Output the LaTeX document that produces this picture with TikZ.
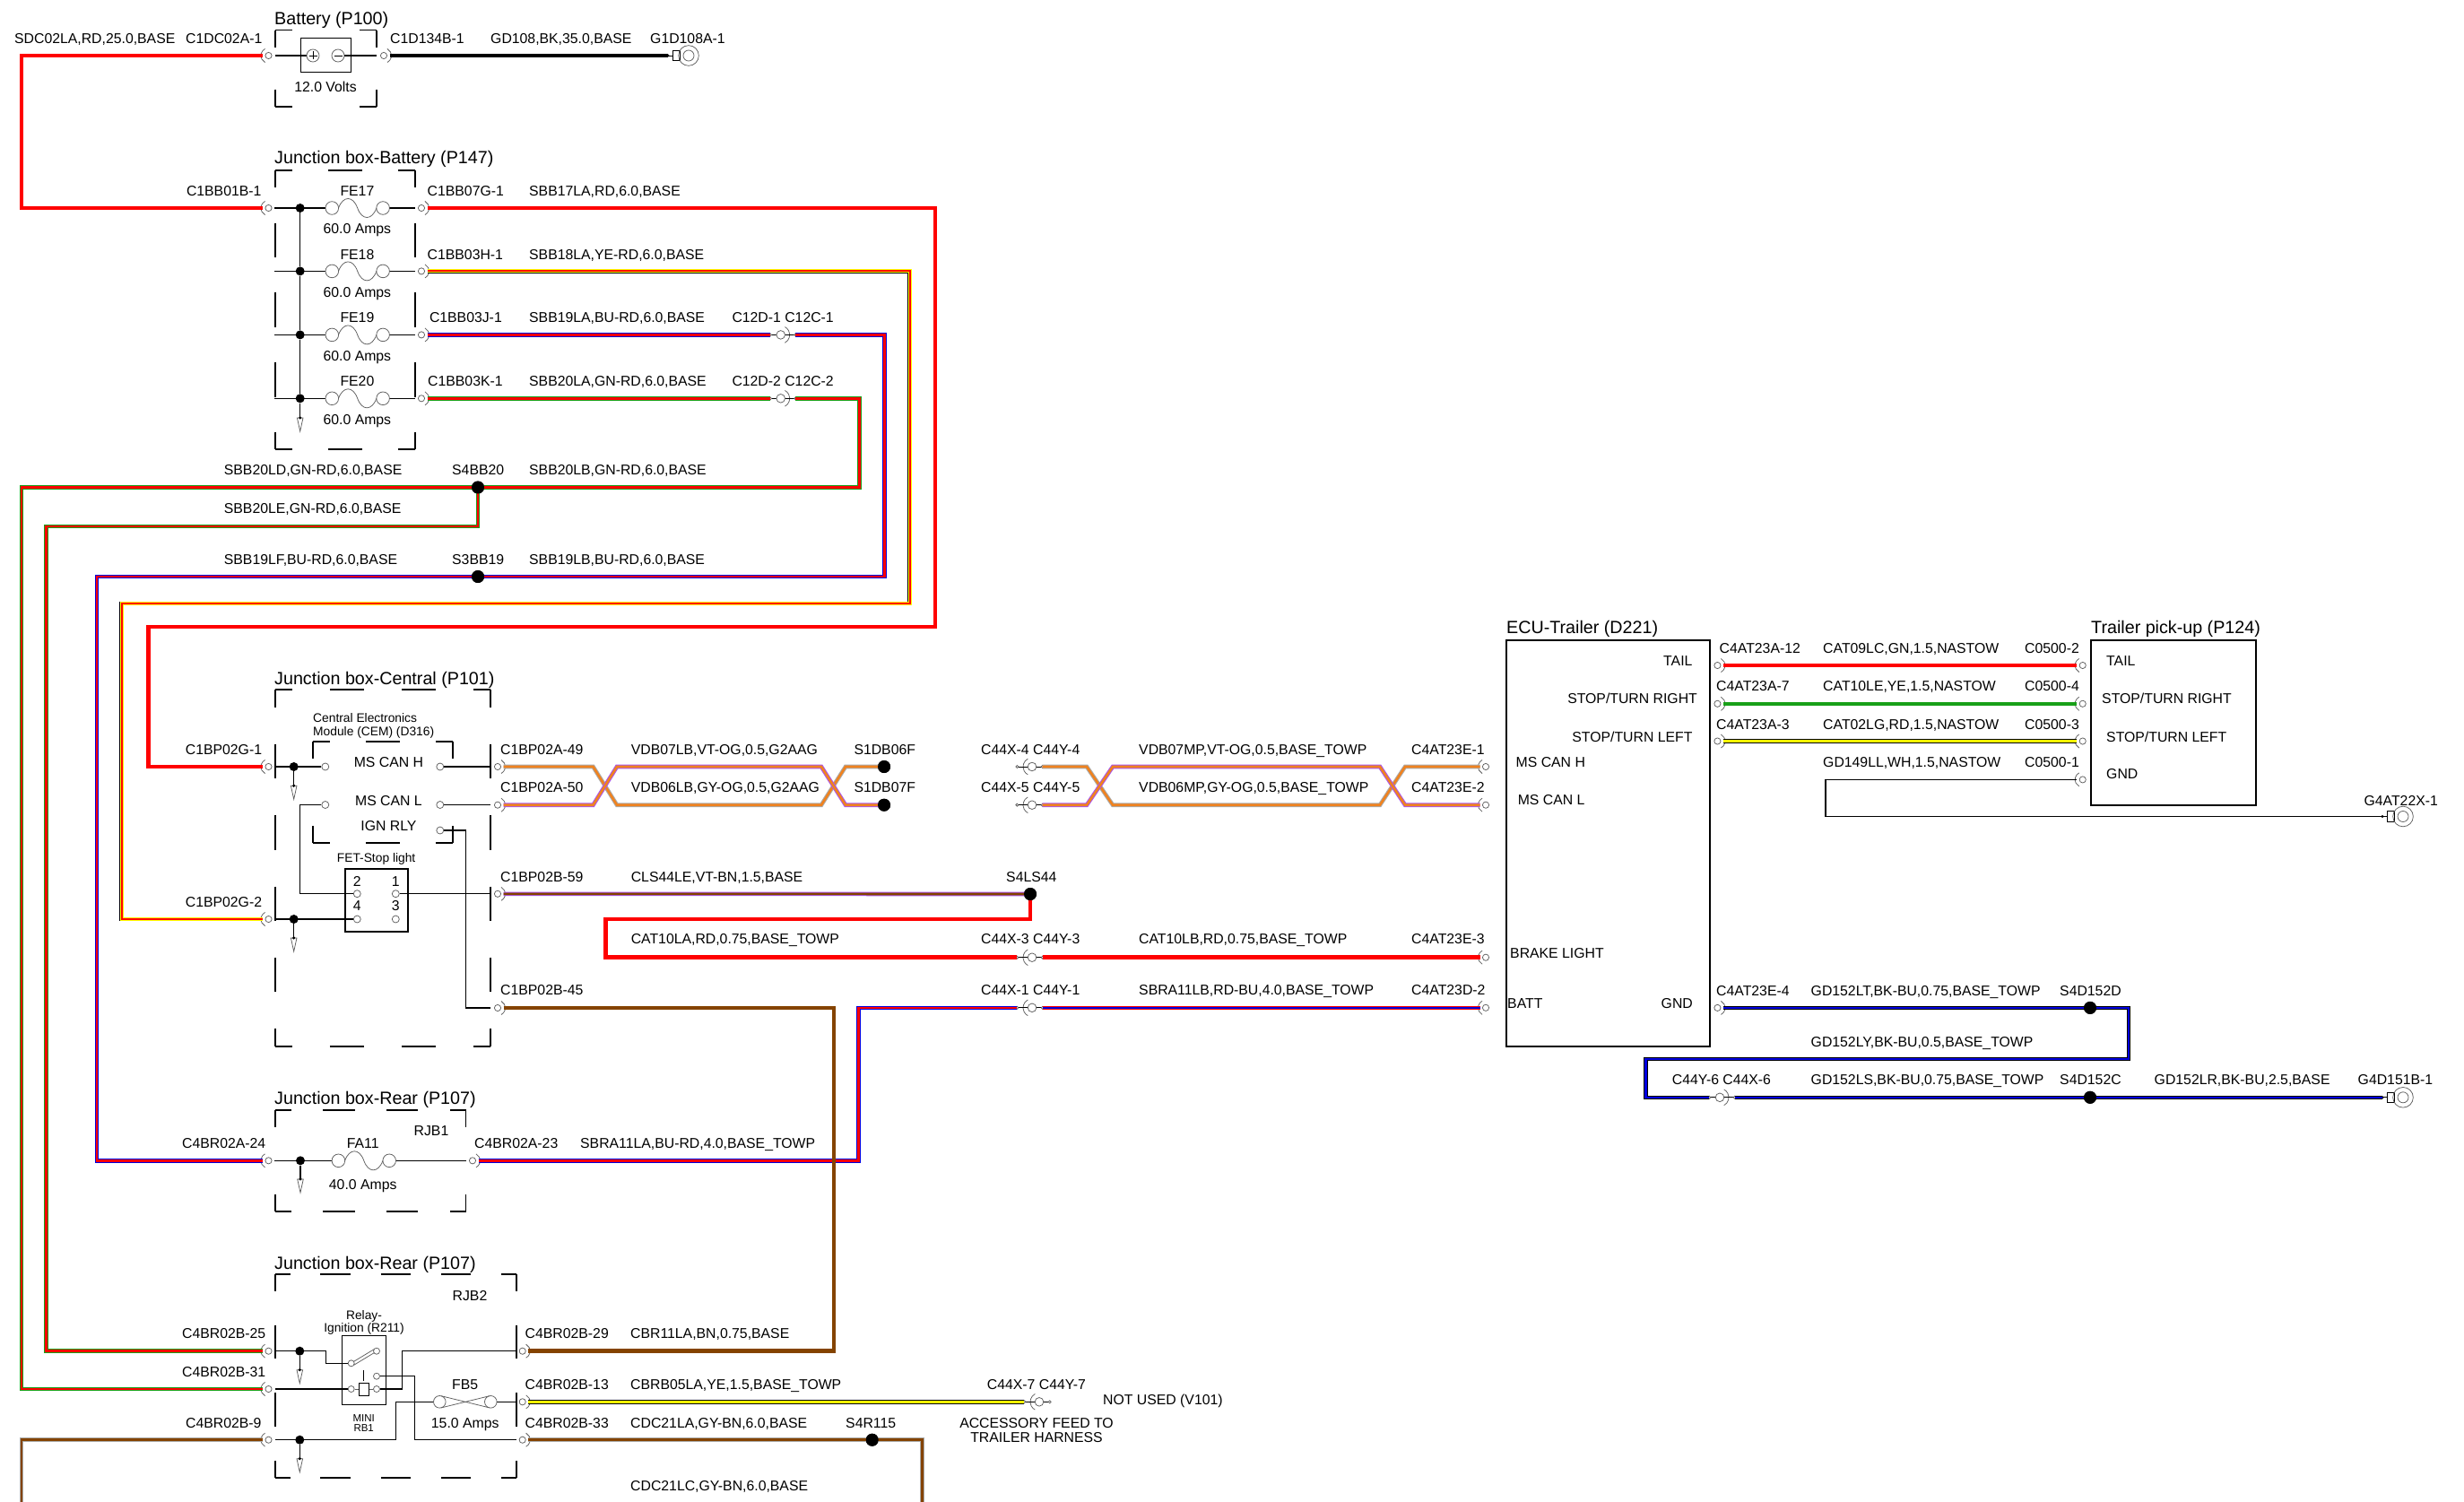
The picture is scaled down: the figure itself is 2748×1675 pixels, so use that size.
\documentclass[tikz,border=0pt]{standalone}
\usepackage{fontspec}
\setmainfont{Liberation Sans}
\definecolor{wred}{RGB}{255,0,0}
\definecolor{wblue}{RGB}{0,0,225}
\definecolor{wgreen}{RGB}{25,160,25}
\definecolor{wyellow}{RGB}{255,255,0}
\definecolor{wbrown}{RGB}{132,67,0}
\definecolor{wviolet}{RGB}{170,85,235}
\definecolor{worange}{RGB}{240,130,30}
\definecolor{wgrey}{RGB}{170,170,170}
\definecolor{symgrey}{RGB}{95,95,95}
\tikzset{
  wplain/.style={draw=#1,line width=4.5pt,line join=miter},
  wtwo/.style 2 args={draw=#2,line width=2.6pt,line join=miter,preaction={draw=#1,line width=4.6pt,line join=miter}},
  wyr/.style={draw=wred,line width=1.9pt,line join=miter,
     preaction={draw=black,line width=4.9pt,line join=miter},
     preaction={draw=wyellow,line width=4pt,line join=miter}},
  wye/.style={draw=wyellow,line width=3.5pt,line join=miter,preaction={draw=black,line width=4.7pt}},
  thinw/.style={draw=black,line width=1.15pt,line join=miter},
  jbline/.style={draw=black,line width=1.8pt},
  sym/.style={draw=symgrey,line width=.75pt},
  pinc/.style={circle,draw=symgrey,line width=.75pt,fill=white,inner sep=0pt,minimum size=8pt},
  jdot/.style={circle,fill=black,inner sep=0pt,minimum size=10pt},
  sdot/.style={circle,fill=black,inner sep=0pt,minimum size=14pt},
  lab/.style={inner sep=0pt,font=\fontsize{15.8}{18}\selectfont,text=black},
  ttl/.style={inner sep=0pt,font=\fontsize{19.7}{22}\selectfont,text=black},
  sml/.style={inner sep=0pt,font=\fontsize{13.8}{16}\selectfont,text=black},
  mini/.style={inner sep=0pt,font=\fontsize{11.5}{14}\selectfont,text=black},
}
\newcount\tcnt
\newcommand\lb[3]{\global\advance\tcnt by 1 \node[lab,anchor=base west] (t\the\tcnt) at (#1,{#2+5.5}) {#3};}
\newcommand\lbr[3]{\global\advance\tcnt by 1 \node[lab,anchor=base east] (t\the\tcnt) at (#1,{#2+5.5}) {#3};}
\newcommand\lbc[3]{\global\advance\tcnt by 1 \node[lab,anchor=base] (t\the\tcnt) at (#1,{#2+5.5}) {#3};}
\newcommand\tit[3]{\global\advance\tcnt by 1 \node[ttl,anchor=base west] (t\the\tcnt) at (#1,{#2+7}) {#3};}
\newcommand\smc[3]{\global\advance\tcnt by 1 \node[sml,anchor=base] (t\the\tcnt) at (#1,{#2+5}) {#3};}
\newcommand\sml[3]{\global\advance\tcnt by 1 \node[sml,anchor=base west] (t\the\tcnt) at (#1,{#2+5}) {#3};}
\newcommand\mnc[3]{\global\advance\tcnt by 1 \node[mini,anchor=base] (t\the\tcnt) at (#1,{#2+4}) {#3};}
% dashed box: x1 y1 x2 y2 Nx Ny
\newcommand\jbox[6]{%
  \pgfmathsetmacro\jpx{(#3-#1)/#5}\pgfmathsetmacro\jpy{(#4-#2)/#6}%
  \pgfmathsetmacro\jox{min(\jpx/2,38.5)}\pgfmathsetmacro\joy{min(\jpy/2,38.5)}%
  \pgfmathsetmacro\jfx{\jpx-\jox}\pgfmathsetmacro\jfy{\jpy-\joy}%
  \pgfmathsetmacro\jhx{\jox/2}\pgfmathsetmacro\jhy{\joy/2}%
  \draw[jbline,dash pattern=on \jox pt off \jfx pt,dash phase=\jhx pt] (#1,#2)--(#3,#2);
  \draw[jbline,dash pattern=on \jox pt off \jfx pt,dash phase=\jhx pt] (#1,#4)--(#3,#4);
  \draw[jbline,dash pattern=on \joy pt off \jfy pt,dash phase=\jhy pt] (#1,#2)--(#1,#4);
  \draw[jbline,dash pattern=on \joy pt off \jfy pt,dash phase=\jhy pt] (#3,#2)--(#3,#4);
}
% end connector: name x y side(+1 right,-1 left)
\newcommand\conn[4]{%
  \coordinate (#1) at ({#2+#4*6.5},#3);
  \draw[sym,fill=white] (#2,#3) circle[radius=3.6pt];
  \ifnum#4>0
    \draw[sym] (#2,#3) ++(-62:8.5pt) arc[start angle=-62,end angle=62,radius=8.5pt];
  \else
    \draw[sym] (#2,#3) ++(118:8.5pt) arc[start angle=118,end angle=242,radius=8.5pt];
  \fi
}
% inline connector: name x y side; gives nameL, nameR
\newcommand\inl[4]{%
  \ifnum#4>0
    \coordinate (#1L) at ({#2-11.7},#3); \coordinate (#1R) at ({#2+16.6},#3);
    \draw[sym] (#2,#3) ++(-62:10pt) arc[start angle=-62,end angle=62,radius=10pt];
  \else
    \coordinate (#1L) at ({#2-16.7},#3); \coordinate (#1R) at ({#2+11.7},#3);
    \draw[sym] (#2,#3) ++(118:10pt) arc[start angle=118,end angle=242,radius=10pt];
  \fi
  \draw[black,line width=.9pt] (#1L)--(#1R);
  \draw[sym,fill=white] (#2,#3) circle[radius=4.8pt];
  \draw[sym,fill=white] (#1L) circle[radius=1.5pt];
  \draw[sym,fill=white] (#1R) circle[radius=1.5pt];
}
\newcommand\fuse[2]{%
  \draw[sym] ({#1-28.4},#2) circle[radius=7.3pt];
  \draw[sym] ({#1+28.4},#2) circle[radius=7.3pt];
  \draw[sym] ({#1-21.2},#2) .. controls ({#1-16},{#2-14}) and ({#1-5},{#2-14}) .. (#1,#2)
     .. controls ({#1+5},{#2+14}) and ({#1+16},{#2+14}) .. ({#1+21.2},#2);
}
\newcommand\fuseline[4]{% x-left xc x-right y
  \draw[thinw] (#1,#4)--({#2-35.7},#4);
  \draw[thinw] ({#2+35.7},#4)--(#3,#4);
  \fuse{#2}{#4}
}
\newcommand\gnd[3]{%
  \coordinate (#1) at ({#2-23},#3);
  \fill[black] (#1) circle[radius=1.7pt];
  \draw[black,line width=.8pt] (#1)--({#2-17.3},#3);
  \draw[black,line width=.8pt,fill=white] ({#2-17.3},{#3-5.7}) rectangle ({#2-10},{#3+5.7});
  \draw[sym] (#2,#3) circle[radius=11.3pt];
  \draw[sym] (#2,#3) circle[radius=6pt];
}
\newcommand\drop[3]{% from-node x ytop
  \coordinate (drp) at (#2,#3);
  \draw[thinw] (#1)--(drp);
  \fill[black] (drp) circle[radius=1.7pt];
  \draw[sym,fill=white] ({#2-3.3},#3)--(#2,{#3+15})--({#2+3.3},#3)--cycle;
  \fill[black] (drp) circle[radius=1.7pt];
}
\begin{document}
\begin{tikzpicture}[x=1pt,y=-1pt]
\useasboundingbox (0,0) rectangle (2748,1675);
\fill[white] (0,0) rectangle (2748,1675);

% ---------- connectors ----------
\conn{c1dc02a}{299.5}{62}{-1}
\conn{c1d134b}{428}{62}{1}
\gnd{g1d108a}{768}{62}
\conn{c1bb01b}{299.5}{232}{-1}
\conn{c1bb07g}{470}{232}{1}
\conn{c1bb03h}{470}{302.4}{1}
\conn{c1bb03j}{470}{373.4}{1}
\conn{c1bb03k}{470}{444.3}{1}
\inl{c12a}{870.7}{373.4}{1}
\inl{c12b}{870.7}{444.3}{1}
\conn{c1bp02g1}{299.5}{855}{-1}
\conn{c1bp02g2}{299.5}{1025}{-1}
\conn{c1bp02a49}{555}{855}{1}
\conn{c1bp02a50}{555}{897.7}{1}
\conn{c1bp02b59}{555}{996.8}{1}
\conn{c1bp02b45}{555}{1124}{1}
\conn{c4br02a24}{299.5}{1294.3}{-1}
\conn{c4br02a23}{527}{1294.3}{1}
\conn{c4br02b25}{299.5}{1506.7}{-1}
\conn{c4br02b31}{299.5}{1549}{-1}
\conn{c4br02b9}{299.5}{1605.7}{-1}
\conn{c4br02b29}{582.7}{1506.7}{1}
\conn{c4br02b13}{582.7}{1563.3}{1}
\conn{c4br02b33}{582.7}{1605.7}{1}
\inl{c44d}{1151}{855}{-1}
\inl{c44e}{1151}{897.7}{-1}
\inl{c44c}{1151}{1067.7}{-1}
\inl{c44a}{1151}{1123.8}{-1}
\inl{c44g}{1159}{1563.3}{-1}
\conn{c4at23e1}{1657}{855}{-1}
\conn{c4at23e2}{1657}{897.7}{-1}
\conn{c4at23e3}{1657}{1067.7}{-1}
\conn{c4at23d2}{1657}{1123.8}{-1}
\conn{c4at23a12}{1915.4}{742}{1}
\conn{c4at23a7}{1915.4}{784.8}{1}
\conn{c4at23a3}{1915.4}{826.5}{1}
\conn{c4at23e4}{1915.4}{1123.9}{1}
\conn{c05002}{2322.7}{742}{-1}
\conn{c05004}{2322.7}{784.8}{-1}
\conn{c05003}{2322.7}{826.5}{-1}
\conn{c05001}{2322.7}{869.4}{-1}
\gnd{g4at22x}{2680}{910.5}
\gnd{g4d151b}{2680}{1223.8}
\inl{c44f}{1918}{1223.8}{1}

% ---------- splices ----------
\node[sdot] (s4bb20) at (533,543.5) {};
\node[sdot] (s3bb19) at (533,643) {};
\node[sdot] (s1db06f) at (986,855) {};
\node[sdot] (s1db07f) at (986,897.7) {};
\node[sdot] (s4ls44) at (1149,997) {};
\node[sdot] (s4r115) at (972.7,1605.7) {};
\node[sdot] (s4d152d) at (2331,1123.9) {};
\node[sdot] (s4d152c) at (2331,1223.8) {};

% ---------- wire corners ----------
\coordinate (a1) at (24,62); \coordinate (a2) at (24,232);
\coordinate (b1) at (1043,232); \coordinate (b2) at (1043,699); \coordinate (b3) at (165.3,699); \coordinate (b4) at (165.3,855);
\coordinate (d1) at (1014.7,302.4); \coordinate (d2) at (1014.7,673); \coordinate (d3) at (135.8,673); \coordinate (d4) at (135.8,1025);
\coordinate (e1) at (986.7,373.4); \coordinate (e2) at (986.7,643); \coordinate (e3) at (108,643); \coordinate (e4) at (108,1294.3);
\coordinate (f1) at (958.7,444.3); \coordinate (f2) at (958.7,543.5); \coordinate (f3) at (24,543.5); \coordinate (f4) at (24,1549);
\coordinate (h1) at (533,587); \coordinate (h2) at (51.7,587); \coordinate (h3) at (51.7,1506.7);
\coordinate (i1) at (24,1605.7); \coordinate (i2) at (24,1675);
\coordinate (i3) at (1028.7,1605.7); \coordinate (i4) at (1028.7,1675);
\coordinate (m1) at (930,1124); \coordinate (m2) at (930,1506.7);
\coordinate (n1) at (957.6,1123.8); \coordinate (n2) at (957.6,1294.3);
\coordinate (o1) at (1149,1025); \coordinate (o2) at (675.3,1025); \coordinate (o3) at (675.3,1067.7);
\coordinate (q1) at (2036,869.4); \coordinate (q2) at (2036,910.5);
\coordinate (r1) at (2374,1123.9); \coordinate (r2) at (2374,1181); \coordinate (r3) at (1835.6,1181); \coordinate (r4) at (1835.6,1223.8);
% twists
\coordinate (tw1) at (661.5,855); \coordinate (tw2) at (661.5,897.7);
\coordinate (tw3) at (688,855); \coordinate (tw4) at (688,897.7);
\coordinate (tw5) at (916,855); \coordinate (tw6) at (916,897.7);
\coordinate (tw7) at (943,855); \coordinate (tw8) at (943,897.7);
\coordinate (tx1) at (1212,855); \coordinate (tx2) at (1212,897.7);
\coordinate (tx3) at (1241,855); \coordinate (tx4) at (1241,897.7);
\coordinate (tx5) at (1539,855); \coordinate (tx6) at (1539,897.7);
\coordinate (tx7) at (1567,855); \coordinate (tx8) at (1567,897.7);

% ---------- wires ----------
\draw[wplain=wred] (c1dc02a)--(a1)--(a2)--(c1bb01b);
\draw[wplain=black] (c1d134b)--(g1d108a);
\draw[wplain=wred] (c1bb07g)--(b1)--(b2)--(b3)--(b4)--(c1bp02g1);
\draw[wyr] (c1bb03h)--(d1)--(d2)--(d3)--(d4)--(c1bp02g2);
\draw[wtwo={wblue}{wred}] (c1bb03j)--(c12aL);
\draw[wtwo={wblue}{wred}] (c12aR)--(e1)--(e2)--(e3)--(e4)--(c4br02a24);
\draw[wtwo={wgreen}{wred}] (c1bb03k)--(c12bL);
\draw[wtwo={wgreen}{wred}] (c12bR)--(f1)--(f2)--(f3)--(f4)--(c4br02b31);
\draw[wtwo={wgreen}{wred}] (s4bb20.center)--(h1)--(h2)--(h3)--(c4br02b25);
\draw[wtwo={wgrey}{wbrown}] (c4br02b9)--(i1)--(i2);
\draw[wtwo={wgrey}{wbrown}] (c4br02b33)--(i3)--(i4);
\draw[wtwo={wblue}{wred}] (c4br02a23)--(n2)--(n1)--(c44aL);
\draw[wplain=wbrown] (c1bp02b45)--(m1)--(m2)--(c4br02b29);
\draw[wtwo={wred}{wblue}] (c44aR)--(c4at23d2);
\draw[wtwo={wviolet}{wbrown}] (c1bp02b59)--(s4ls44.center);
\draw[wplain=wred] (s4ls44.center)--(o1)--(o2)--(o3)--(c44cL);
\draw[wplain=wred] (c44cR)--(c4at23e3);
% twisted pairs
\draw[wtwo={wgrey}{worange}] (c1bp02a49)--(tw1)--(tw4)--(tw6)--(tw7)--(s1db06f.center);
\draw[wtwo={wviolet}{worange}] (c1bp02a50)--(tw2)--(tw3)--(tw5)--(tw8)--(s1db07f.center);
\draw[wtwo={wgrey}{worange}] (c44dR)--(tx1)--(tx4)--(tx6)--(tx7)--(c4at23e1);
\draw[wtwo={wviolet}{worange}] (c44eR)--(tx2)--(tx3)--(tx5)--(tx8)--(c4at23e2);
% yellow
\draw[wye] (c4br02b13)--(c44gL);
% right part
\draw[wplain=wred,line width=4.2pt] (c4at23a12)--(c05002);
\draw[wplain=wgreen,line width=4.2pt] (c4at23a7)--(c05004);
\draw[wye] (c4at23a3)--(c05003);
\draw[thinw] (c05001)--(q1)--(q2)--(g4at22x);
\draw[wtwo={black}{wblue}] (c4at23e4)--(r1)--(r2)--(r3)--(r4)--(c44fL);
\draw[wtwo={black}{wblue}] (c44fR)--(g4d151b);
% splices on top
\node[sdot] at (s4bb20) {};\node[sdot] at (s4ls44) {};\node[sdot] at (s1db06f) {};\node[sdot] at (s1db07f) {};
\node[sdot] at (s3bb19) {};\node[sdot] at (s4r115) {};\node[sdot] at (s4d152d) {};\node[sdot] at (s4d152c) {};

% ---------- battery ----------
\jbox{307}{33.6}{420}{119}{1}{1}
\draw[black,line width=1pt] (335,43) rectangle (391.5,81);
\coordinate (bl) at (307,62); \coordinate (br) at (420,62);
\node[pinc,minimum size=14pt] (bp) at (349,62) {};
\node[pinc,minimum size=14pt] (bm) at (377,62) {};
\draw[black,line width=.7pt] (344.5,62)--(353.5,62) (349,57.5)--(349,66.5) (372.5,62)--(381.5,62);
\draw[thinw] (bl)--(bp); \draw[thinw] (bm)--(br);
\tit{306}{21}{Battery (P100)}
\lb{16}{43}{SDC02LA,RD,25.0,BASE}
\lb{207}{43}{C1DC02A-1}
\lb{435}{43}{C1D134B-1}
\lb{547}{43}{GD108,BK,35.0,BASE}
\lb{725}{43}{G1D108A-1}
\lbc{363}{97}{12.0 Volts}

% ---------- junction box battery ----------
\jbox{307}{190}{463}{501}{2}{4}
\tit{306}{175}{Junction box-Battery (P147)}
\fuseline{306}{398.7}{463}{232}
\fuseline{306}{398.7}{463}{302.4}
\fuseline{306}{398.7}{463}{373.4}
\fuseline{306}{398.7}{463}{444.3}
\node[jdot] (j1) at (334.7,232) {};
\node[jdot] (j2) at (334.7,302.4) {};
\node[jdot] (j3) at (334.7,373.4) {};
\node[jdot] (j4) at (334.7,444.3) {};
\draw[thinw] (j1)--(j2); \draw[thinw] (j2)--(j3); \draw[thinw] (j3)--(j4);
\drop{j4}{334.7}{466}
\lb{207.8}{212.5}{C1BB01B-1}
\lbc{398.4}{212.5}{FE17}
\lbc{398.4}{254.6}{60.0 Amps}
\lbc{398.4}{283.6}{FE18}
\lbc{398.4}{325.7}{60.0 Amps}
\lbc{398.4}{353.6}{FE19}
\lbc{398.4}{397}{60.0 Amps}
\lbc{398.4}{424.6}{FE20}
\lbc{398.4}{467.9}{60.0 Amps}
\lb{476.5}{212.5}{C1BB07G-1}
\lb{590}{212.5}{SBB17LA,RD,6.0,BASE}
\lb{476.5}{283.6}{C1BB03H-1}
\lb{590}{283.6}{SBB18LA,YE-RD,6.0,BASE}
\lb{478.8}{353.6}{C1BB03J-1}
\lb{590}{353.6}{SBB19LA,BU-RD,6.0,BASE}
\lb{816.3}{353.6}{C12D-1 C12C-1}
\lb{477}{424.6}{C1BB03K-1}
\lb{590}{424.6}{SBB20LA,GN-RD,6.0,BASE}
\lb{816.3}{424.6}{C12D-2 C12C-2}
\lb{249.7}{523.6}{SBB20LD,GN-RD,6.0,BASE}
\lb{504}{523.6}{S4BB20}
\lb{590}{523.6}{SBB20LB,GN-RD,6.0,BASE}
\lb{249.7}{566.5}{SBB20LE,GN-RD,6.0,BASE}
\lb{249.7}{624}{SBB19LF,BU-RD,6.0,BASE}
\lb{504}{624}{S3BB19}
\lb{590}{624}{SBB19LB,BU-RD,6.0,BASE}

% ---------- junction box central ----------
\jbox{307}{769.3}{547}{1166.7}{3}{5}
\jbox{349}{826.7}{505}{940}{2}{1}
\tit{306}{756}{Junction box-Central (P101)}
\sml{349}{800.3}{Central Electronics}
\sml{349}{815.7}{Module (CEM) (D316)}
\coordinate (cl1) at (307,855); \coordinate (cl2) at (307,1025);
\coordinate (cr1) at (547,855); \coordinate (cr2) at (547,897.5); \coordinate (cr3) at (547,996.7); \coordinate (cr4) at (547,1124);
\coordinate (k1) at (334.3,897.5); \coordinate (k2) at (334.3,996.7);
\coordinate (k3) at (519.7,926); \coordinate (k4) at (519.7,1124);
\draw[black,line width=1.8pt] (385,969) rectangle (455.3,1039.3);
\node[pinc] (p1) at (362.8,855) {}; \node[pinc] (p2) at (490.8,855) {};
\node[pinc] (p3) at (362.8,897.5) {}; \node[pinc] (p4) at (490.8,897.5) {};
\node[pinc] (p5) at (490.8,926) {};
\node[pinc] (pf2) at (398.3,996.7) {}; \node[pinc] (pf1) at (441.3,996.7) {};
\node[pinc] (pf4) at (398.3,1025) {}; \node[pinc] (pf3) at (441.3,1025) {};
\node[jdot] (jc1) at (327.7,855) {}; \node[jdot] (jc2) at (327.7,1025) {};
\draw[thinw] (cl1)--(p1); \draw[thinw] (p2)--(cr1); \draw[thinw] (p4)--(cr2);
\draw[thinw] (p3)--(k1)--(k2)--(pf2);
\draw[thinw] (pf1)--(cr3);
\draw[thinw] (p5)--(k3)--(k4)--(cr4);
\draw[thinw] (cl2)--(pf4);
\drop{jc1}{327.7}{876.3}
\drop{jc2}{327.7}{1046}
\lbc{433.4}{849.7}{MS CAN H}
\lbc{433.4}{892.7}{MS CAN L}
\lbc{433.4}{920.7}{IGN RLY}
\smc{419.6}{956.3}{FET-Stop light}
\lbc{398.3}{982.7}{2}\lbc{441.3}{982.7}{1}
\lbc{398.3}{1010.3}{4}\lbc{441.3}{1010.3}{3}
\lb{206.7}{835.7}{C1BP02G-1}
\lb{206.7}{1005.7}{C1BP02G-2}
\lb{558}{835.7}{C1BP02A-49}
\lb{558}{877.7}{C1BP02A-50}
\lb{558}{977.7}{C1BP02B-59}
\lb{558}{1104.3}{C1BP02B-45}

% ---------- middle labels ----------
\lb{703.6}{835.7}{VDB07LB,VT-OG,0.5,G2AAG}
\lb{952.3}{835.7}{S1DB06F}
\lb{703.6}{877.7}{VDB06LB,GY-OG,0.5,G2AAG}
\lb{952.3}{877.7}{S1DB07F}
\lb{1094}{835.7}{C44X-4 C44Y-4}
\lb{1270}{835.7}{VDB07MP,VT-OG,0.5,BASE\_TOWP}
\lb{1574}{835.7}{C4AT23E-1}
\lb{1094}{877.7}{C44X-5 C44Y-5}
\lb{1270}{877.7}{VDB06MP,GY-OG,0.5,BASE\_TOWP}
\lb{1574}{877.7}{C4AT23E-2}
\lb{703.6}{977.7}{CLS44LE,VT-BN,1.5,BASE}
\lb{1122}{977.7}{S4LS44}
\lb{703.6}{1047.3}{CAT10LA,RD,0.75,BASE\_TOWP}
\lb{1094}{1047.3}{C44X-3 C44Y-3}
\lb{1270}{1047.3}{CAT10LB,RD,0.75,BASE\_TOWP}
\lb{1574}{1047.3}{C4AT23E-3}
\lb{1094}{1104.3}{C44X-1 C44Y-1}
\lb{1270}{1104.3}{SBRA11LB,RD-BU,4.0,BASE\_TOWP}
\lb{1574}{1104.3}{C4AT23D-2}

% ---------- RJB1 ----------
\jbox{307}{1237.7}{519.5}{1351}{3}{1}
\tit{306}{1224}{Junction box-Rear (P107)}
\fuseline{306}{405.8}{519.5}{1294.3}
\node[jdot] (jr1) at (335,1294.3) {};
\drop{jr1}{335}{1315}
\lb{203}{1275}{C4BR02A-24}
\lbc{404.7}{1275}{FA11}
\lbc{404.7}{1320.7}{40.0 Amps}
\lbc{481}{1261}{RJB1}
\lb{529}{1275}{C4BR02A-23}
\lb{647}{1275}{SBRA11LA,BU-RD,4.0,BASE\_TOWP}

% ---------- RJB2 ----------
\jbox{307}{1421}{575.8}{1647.7}{4}{3}
\tit{306}{1408}{Junction box-Rear (P107)}
\lbc{524}{1445}{RJB2}
\draw[black,line width=1pt] (381.3,1489.3) rectangle (430.3,1566.7);
\smc{406}{1466}{Relay-}
\smc{406}{1480.7}{Ignition (R211)}
\mnc{405.7}{1581}{MINI}
\mnc{405.7}{1592.7}{RB1}
\node[pinc,minimum size=7pt] (q1p) at (391.7,1520.3) {};
\node[pinc,minimum size=7pt] (q2p) at (420,1506.7) {};
\node[pinc,minimum size=7pt] (q3p) at (391.7,1549) {};
\node[pinc,minimum size=7pt] (q4p) at (420,1549) {};
\node[pinc,minimum size=7pt] (q5p) at (420,1534.7) {};
\coordinate (rl1) at (307,1506.7); \coordinate (rl2) at (307,1549); \coordinate (rl3) at (307,1605.7);
\coordinate (rr1) at (575.8,1506.7); \coordinate (rr2) at (575.8,1563.3); \coordinate (rr3) at (575.8,1605.7);
\coordinate (v1) at (363.3,1506.7); \coordinate (v2) at (363.3,1520.3);
\coordinate (v3) at (448.3,1549); \coordinate (v4) at (448.3,1506.7);
\coordinate (v5) at (462.7,1534.7); \coordinate (v6) at (462.7,1605.7);
\coordinate (v7) at (441.7,1605.7); \coordinate (v8) at (441.7,1563.3);
\coordinate (v9) at (483.5,1563.3); \coordinate (v10) at (554.3,1563.3);
\node[jdot] (jq1) at (334.3,1506.7) {};
\node[jdot] (jq2) at (334.3,1605.7) {};
\draw[thinw] (rl1)--(v1)--(v2)--(q1p);
\draw[thinw] (rl2)--(q3p);
\draw[thinw] (q4p)--(v3)--(v4)--(rr1);
\draw[thinw] (q5p)--(v5)--(v6)--(rr3);
\draw[thinw] (rl3)--(v7)--(v8)--(v9);
\draw[thinw] (v10)--(rr2);
\draw[sym] (394.6,1518.3)--(417.1,1504.7) (394.6,1522.3)--(417.1,1508.7);
\draw[sym] (q3p)--(q4p);
\draw[black,line width=.9pt,fill=white] (400.3,1542.3) rectangle (411.7,1556.3);
\draw[black,line width=.8pt] (405.7,1528.3)--(405.7,1540);
\draw[sym] (490.3,1563.3) circle[radius=6.8pt];
\draw[sym] (547.3,1563.3) circle[radius=6.8pt];
\draw[sym] (492,1556.7)--(546,1569.9) (492,1569.9)--(546,1556.7);
\drop{jq1}{334.3}{1527.7}
\drop{jq2}{334.3}{1626.7}
\lb{203}{1487}{C4BR02B-25}
\lb{203}{1530}{C4BR02B-31}
\lb{207}{1586.7}{C4BR02B-9}
\lb{585.5}{1487}{C4BR02B-29}
\lb{703}{1487}{CBR11LA,BN,0.75,BASE}
\lb{585.5}{1543.7}{C4BR02B-13}
\lb{703}{1543.7}{CBRB05LA,YE,1.5,BASE\_TOWP}
\lb{585.5}{1586.7}{C4BR02B-33}
\lb{703}{1586.7}{CDC21LA,GY-BN,6.0,BASE}
\lb{943}{1586.7}{S4R115}
\lb{703}{1656.7}{CDC21LC,GY-BN,6.0,BASE}
\lbc{518.7}{1544}{FB5}
\lbc{518.7}{1586.7}{15.0 Amps}
\lb{1100.7}{1543.7}{C44X-7 C44Y-7}
\lb{1230}{1560.7}{NOT USED (V101)}
\lbc{1156}{1586.7}{ACCESSORY FEED TO}
\lbc{1156}{1603.3}{TRAILER HARNESS}

% ---------- ECU + trailer ----------
\draw[black,line width=2pt] (1680,714) rectangle (1907,1167);
\draw[black,line width=2pt] (2332,714) rectangle (2515.6,897.7);
\tit{1680}{699.5}{ECU-Trailer (D221)}
\tit{2332}{699.5}{Trailer pick-up (P124)}
\lbr{1887.6}{736.6}{TAIL}
\lbr{1893}{778.7}{STOP/TURN RIGHT}
\lbr{1887.6}{821.5}{STOP/TURN LEFT}
\lb{1690.5}{849.5}{MS CAN H}
\lb{1692.6}{892}{MS CAN L}
\lb{1684}{1062.6}{BRAKE LIGHT}
\lb{1681}{1118.5}{BATT}
\lbr{1888}{1118.5}{GND}
\lb{2349}{736.6}{TAIL}
\lb{2344}{778.7}{STOP/TURN RIGHT}
\lb{2349}{821.5}{STOP/TURN LEFT}
\lb{2349}{863}{GND}
\lb{1917.5}{722.8}{C4AT23A-12}
\lb{2033}{722.8}{CAT09LC,GN,1.5,NASTOW}
\lb{2258}{722.8}{C0500-2}
\lb{1914}{765}{C4AT23A-7}
\lb{2033}{765}{CAT10LE,YE,1.5,NASTOW}
\lb{2258}{765}{C0500-4}
\lb{1914}{807.8}{C4AT23A-3}
\lb{2033}{807.8}{CAT02LG,RD,1.5,NASTOW}
\lb{2258}{807.8}{C0500-3}
\lb{2033}{850}{GD149LL,WH,1.5,NASTOW}
\lb{2258}{850}{C0500-1}
\lb{2636.4}{892.7}{G4AT22X-1}
\lb{1914}{1104.7}{C4AT23E-4}
\lb{2019.5}{1104.7}{GD152LT,BK-BU,0.75,BASE\_TOWP}
\lb{2297}{1104.7}{S4D152D}
\lb{2019.5}{1161.8}{GD152LY,BK-BU,0.5,BASE\_TOWP}
\lb{1864.7}{1203.9}{C44Y-6 C44X-6}
\lb{2019.5}{1203.9}{GD152LS,BK-BU,0.75,BASE\_TOWP}
\lb{2297}{1203.9}{S4D152C}
\lb{2402.5}{1203.9}{GD152LR,BK-BU,2.5,BASE}
\lb{2629.5}{1203.9}{G4D151B-1}
\end{tikzpicture}
\end{document}
